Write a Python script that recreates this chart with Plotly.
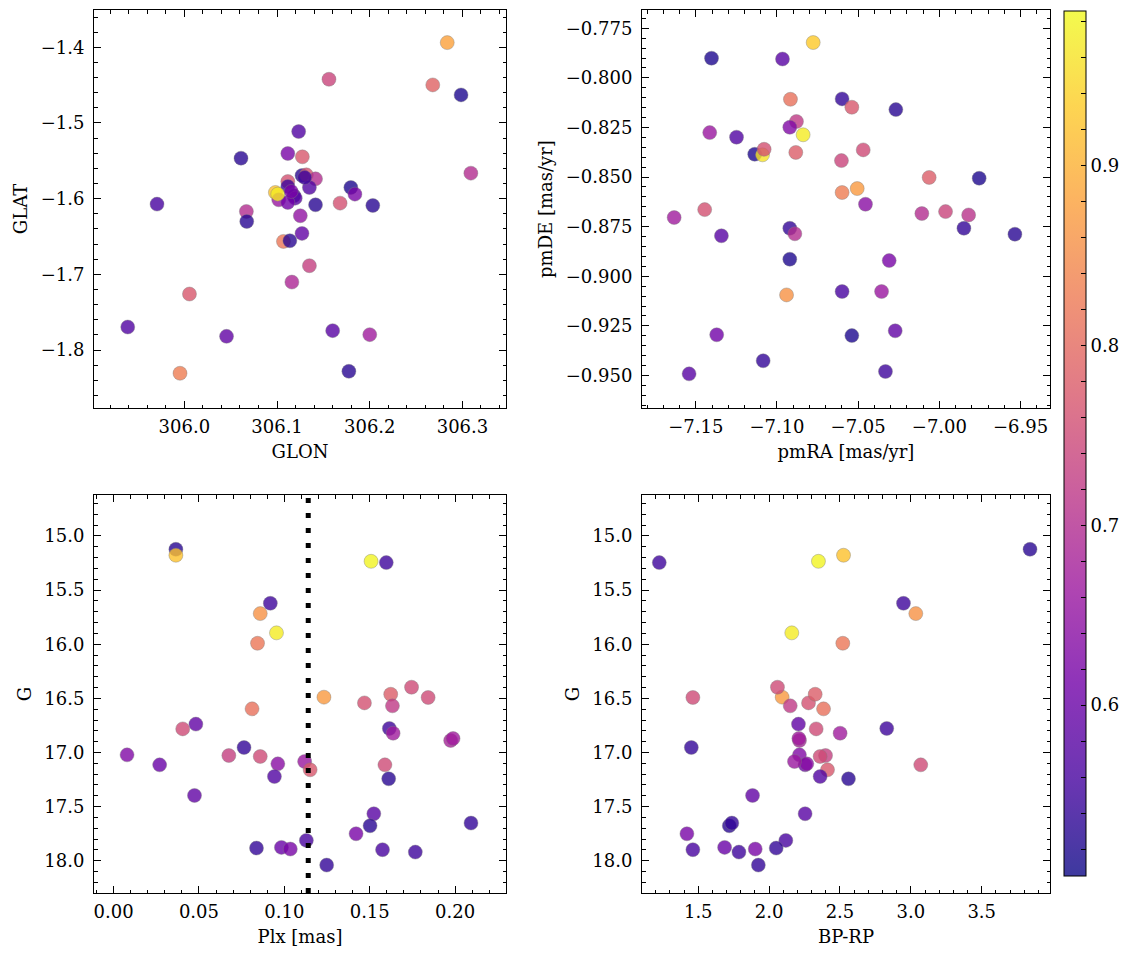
import plotly.graph_objects as go

# ---------------- data ----------------
# Panel 1: sky position
glon = [306.2836, 306.156, 306.268, 306.2985, 306.1233, 306.0611, 306.1116, 306.1273,
        306.3091, 306.1269, 306.1316, 306.1415, 306.1116, 306.1116, 306.1349, 306.0982,
        306.1796, 306.184, 306.1182, 306.1196, 306.1018, 306.1116, 305.9705, 306.1415,
        306.168, 306.2033, 306.0669, 306.0673, 306.1251, 306.1269, 306.1069, 306.1138,
        306.1349, 306.116, 306.0055, 305.9389, 306.0455, 306.16, 306.2, 305.9953,
        306.1775, 306.1007, 306.1153, 306.1298]
glat = [-1.3938, -1.4422, -1.4497, -1.4629, -1.5113, -1.5465, -1.5403, -1.5447,
        -1.5663, -1.5694, -1.5685, -1.5738, -1.5773, -1.5839, -1.5852, -1.5918,
        -1.5852, -1.5940, -1.5962, -1.5993, -1.6015, -1.6050, -1.6072, -1.6081,
        -1.6059, -1.6090, -1.6169, -1.6301, -1.6226, -1.6459, -1.6565, -1.6556,
        -1.6886, -1.7102, -1.7260, -1.7696, -1.7819, -1.7744, -1.7797, -1.8307,
        -1.8281, -1.5940, -1.5905, -1.5720]
prob_sky = [0.88, 0.74, 0.79, 0.52, 0.57, 0.53, 0.62, 0.77,
            0.70, 0.53, 0.76, 0.70, 0.76, 0.55, 0.57, 0.92,
            0.52, 0.62, 0.55, 0.58, 0.66, 0.61, 0.56, 0.53,
            0.76, 0.53, 0.70, 0.53, 0.65, 0.59, 0.82, 0.53,
            0.73, 0.69, 0.77, 0.57, 0.59, 0.58, 0.67, 0.83,
            0.53, 0.97, 0.62, 0.55]

# Panel 2: proper motions
pmra = [-7.0777, -7.1403, -7.0966, -7.0917, -7.0599, -7.0539, -7.0268, -7.0880,
        -7.0921, -7.1414, -7.0839, -7.1249, -7.1137, -7.1089, -7.1079, -7.0884,
        -7.0469, -7.0603, -7.0063, -6.9755, -7.0506, -7.0599, -7.0455, -7.1633,
        -7.1445, -7.0108, -6.9962, -6.9820, -6.9849, -7.0921, -7.0890, -7.1342,
        -6.9535, -7.0921, -7.0309, -7.0941, -7.0599, -7.0356, -7.1371, -7.0539,
        -7.0272, -7.1085, -7.1541, -7.0332]
pmde = [-0.7822, -0.7901, -0.7905, -0.8108, -0.8106, -0.8148, -0.8160, -0.8220,
        -0.8249, -0.8276, -0.8287, -0.8299, -0.8385, -0.8388, -0.8360, -0.8376,
        -0.8363, -0.8417, -0.8502, -0.8506, -0.8558, -0.8578, -0.8637, -0.8704,
        -0.8664, -0.8684, -0.8674, -0.8691, -0.8758, -0.8758, -0.8786, -0.8796,
        -0.8788, -0.8914, -0.8921, -0.9094, -0.9077, -0.9077, -0.9295, -0.9299,
        -0.9275, -0.9426, -0.9492, -0.9480]
prob_pm = [0.93, 0.52, 0.58, 0.81, 0.54, 0.77, 0.53, 0.72,
           0.63, 0.66, 0.97, 0.57, 0.52, 0.96, 0.76, 0.78,
           0.75, 0.74, 0.78, 0.52, 0.87, 0.83, 0.64, 0.67,
           0.76, 0.70, 0.74, 0.71, 0.54, 0.54, 0.70, 0.58,
           0.53, 0.52, 0.62, 0.86, 0.56, 0.66, 0.61, 0.52,
           0.59, 0.54, 0.58, 0.55]

# Panels 3 & 4: parallax, colour, magnitude
plx = [0.0365, 0.0365, 0.1508, 0.1597, 0.0918, 0.0859, 0.0954, 0.0843,
       0.1232, 0.1469, 0.1623, 0.1745, 0.1842, 0.1633, 0.0811, 0.0482,
       0.0405, 0.1615, 0.1637, 0.1974, 0.1988, 0.0079, 0.0764, 0.0675,
       0.0859, 0.0270, 0.0962, 0.1119, 0.1151, 0.1589, 0.0942, 0.1611,
       0.0474, 0.1524, 0.1502, 0.2093, 0.1420, 0.1129, 0.0837, 0.0983,
       0.1035, 0.1575, 0.1767, 0.1248]
bp_rp = [3.841, 2.525, 2.348, 1.225, 2.948, 3.035, 2.160, 2.520,
         2.092, 2.278, 2.325, 2.059, 1.462, 2.149, 2.384, 2.207,
         2.332, 2.830, 2.501, 2.214, 2.210, 2.214, 1.451, 2.398,
         2.360, 2.254, 2.266, 2.179, 2.412, 3.070, 2.360, 2.560,
         1.883, 2.254, 1.719, 1.737, 1.420, 2.118, 2.050, 1.686,
         1.902, 1.462, 1.787, 1.924]
gmag = [15.123, 15.178, 15.234, 15.246, 15.622, 15.717, 15.895, 15.991,
        16.489, 16.542, 16.462, 16.397, 16.492, 16.569, 16.597, 16.738,
        16.782, 16.778, 16.822, 16.889, 16.871, 17.022, 16.954, 17.028,
        17.037, 17.114, 17.105, 17.083, 17.160, 17.114, 17.222, 17.243,
        17.397, 17.566, 17.677, 17.652, 17.751, 17.812, 17.883, 17.877,
        17.892, 17.898, 17.920, 18.040]
prob_phot = [0.53, 0.92, 0.98, 0.55, 0.55, 0.86, 0.97, 0.82,
             0.87, 0.76, 0.78, 0.75, 0.75, 0.72, 0.81, 0.59,
             0.75, 0.55, 0.67, 0.68, 0.67, 0.63, 0.54, 0.73,
             0.75, 0.60, 0.64, 0.66, 0.77, 0.75, 0.57, 0.53,
             0.59, 0.58, 0.53, 0.54, 0.62, 0.56, 0.54, 0.60,
             0.62, 0.56, 0.55, 0.54]

plx_cut = 0.114
prob_min, prob_max = 0.505, 0.986
cbar_labels = [0.6, 0.7, 0.8, 0.9]

# ---------------- styling ----------------
FONT = dict(family="DejaVu Serif", size=18, color="black")
OFF = 8                       # page body margin of the browser
W, H = 1133 - OFF, 960 - OFF  # figure size so that it fits the window
ALPHA = 0.8

plasma_hex = ["#0d0887", "#46039f", "#7201a8", "#9c179e", "#bd3786",
              "#d8576b", "#ed7953", "#fb9f3a", "#fdca26", "#f0f921"]


def rgba(h, a):
    h = h.lstrip("#")
    return "rgba(%d,%d,%d,%.2f)" % (int(h[0:2], 16), int(h[2:4], 16), int(h[4:6], 16), a)


plasma_alpha = [[i / (len(plasma_hex) - 1), rgba(c, ALPHA)] for i, c in enumerate(plasma_hex)]


def px_x(a, b):
    return [(a - OFF) / W, (b - OFF) / W]


def px_y(top, bottom):
    return [1 - (bottom - OFF) / H, 1 - (top - OFF) / H]


def marker(vals, show=False):
    m = dict(color=vals, colorscale=plasma_alpha, cmin=prob_min, cmax=prob_max,
             size=14, line=dict(color="rgba(128,128,128,0.8)", width=0.5),
             showscale=show)
    if show:
        tv = [round(0.52 + 0.02 * i, 2) for i in range(24)]
        m["colorbar"] = dict(
            x=(1064 - OFF) / W, xanchor="left", xpad=0,
            y=1 - (11 - OFF) / H, yanchor="top", ypad=0,
            len=865 / H, lenmode="fraction", thickness=22,
            outlinewidth=1, outlinecolor="black",
            ticks="inside", ticklen=5, tickcolor="black", tickwidth=1,
            tickvals=tv,
            ticktext=[("%.1f" % v) if any(abs(v - c) < 1e-9 for c in cbar_labels) else "" for v in tv],
            tickfont=FONT,
        )
    return m


fig = go.Figure()
fig.add_trace(go.Scatter(x=glon, y=glat, mode="markers", marker=marker(prob_sky),
                         xaxis="x", yaxis="y", showlegend=False))
fig.add_trace(go.Scatter(x=pmra, y=pmde, mode="markers", marker=marker(prob_pm),
                         xaxis="x2", yaxis="y2", showlegend=False))
fig.add_trace(go.Scatter(x=plx, y=gmag, mode="markers", marker=marker(prob_phot),
                         xaxis="x3", yaxis="y3", showlegend=False))
fig.add_trace(go.Scatter(x=bp_rp, y=gmag, mode="markers", marker=marker(prob_phot, True),
                         xaxis="x4", yaxis="y4", showlegend=False))


def ax(domain, anchor, rng, tick0, dtick, mdtick, fmt, title, standoff, is_x):
    return dict(
        domain=domain, anchor=anchor, range=rng, autorange=False,
        showline=True, linecolor="black", linewidth=1, mirror="allticks",
        ticks="inside", ticklen=7, tickwidth=1, tickcolor="black",
        tick0=tick0, dtick=dtick, tickformat=fmt,
        minor=dict(ticks="inside", ticklen=3.5, tickwidth=1, tickcolor="black",
                   tick0=tick0, dtick=mdtick, showgrid=False),
        showgrid=False, zeroline=False, automargin=False,
        tickfont=FONT, ticklabelstandoff=2 if is_x else 5,
        title=dict(text=title, font=FONT, standoff=standoff),
    )


xl = px_x(94, 506)
xr = px_x(642, 1050)
yt = px_y(10, 408)
yb = px_y(495, 893)

fig.update_layout(
    width=W, height=H, autosize=False,
    margin=dict(l=0, r=0, t=0, b=0),
    paper_bgcolor="white", plot_bgcolor="white",
    font=FONT,
    xaxis=ax(xl, "y", [305.9025, 306.347], 306.0, 0.1, 0.02, ".1f", "GLON", 9, True),
    yaxis=ax(yt, "x", [-1.8766, -1.3507], -1.4, 0.1, 0.02, ".1f", "GLAT", 8, False),
    xaxis2=ax(xr, "y2", [-7.1831, -6.9319], -7.15, 0.05, 0.01, ".2f", "pmRA [mas/yr]", 9, True),
    yaxis2=ax(yt, "x2", [-0.9664, -0.7658], -0.775, 0.025, 0.005, ".3f", "pmDE [mas/yr]", 8, False),
    xaxis3=ax(xl, "y3", [-0.01145, 0.2298], 0.0, 0.05, 0.01, ".2f", "Plx [mas]", 9, True),
    yaxis3=ax(yb, "x3", [18.298, 14.6215], 15.0, 0.5, 0.1, ".1f", "G", 8, False),
    xaxis4=ax(xr, "y4", [1.103, 3.982], 1.5, 0.5, 0.1, ".1f", "BP-RP", 9, True),
    yaxis4=ax(yb, "x4", [18.298, 14.6215], 15.0, 0.5, 0.1, ".1f", "G", 8, False),
)

fig.add_shape(type="line", x0=plx_cut, x1=plx_cut, y0=0, y1=1,
              xref="x3", yref="y3 domain",
              line=dict(color="black", width=5, dash="5px,10px"))

fig.write_html("out.html")
